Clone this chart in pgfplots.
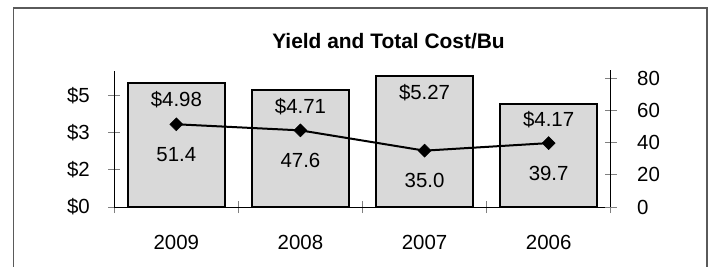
\documentclass[border=0pt]{standalone}
\usepackage{fontspec}
\setmainfont{Liberation Sans}
\usepackage{pgfplots}
\pgfplotsset{compat=1.18}
\definecolor{barfill}{HTML}{D9D9D9}
\definecolor{framegray}{HTML}{5A5A5A}
\newcommand{\lblfont}{\fontsize{20.5}{24}\selectfont}
\begin{document}
\begin{tikzpicture}[x=1bp,y=1bp]
\useasboundingbox (-114.3,-59) rectangle (597.7,207);
\clip (-114.3,-59) rectangle (597.7,207);
\draw[framegray, line width=1.5bp] (-100.8,-70) -- (-100.8,199) -- (592.7,199) -- (592.7,-70);
\node[anchor=base, inner sep=0pt] at (274.2,159) {\fontsize{21}{25}\selectfont\bfseries Yield and Total Cost/Bu};
\begin{axis}[at={(0,0)}, anchor=south west, scale only axis,
  width=496.4bp, height=136.5bp,
  xmin=0.5, xmax=4.5, ymin=0, ymax=5.5,
  axis x line=bottom, axis y line=left,
  axis line style={-, black, line width=1bp},
  xtick={0.5,1.5,2.5,3.5,4.5}, xticklabels={},
  extra x ticks={1,2,3,4}, extra x tick labels={2009,2008,2007,2006},
  extra x tick style={major tick length=0pt, xticklabel style={yshift=-25bp}},
  ytick={0,1.5,3,4.5}, yticklabels={\$0,\$2,\$3,\$5},
  tick align=center, major tick length=12bp,
  tick style={gray, line width=1bp},
  yticklabel style={xshift=-15bp},
  every tick label/.append style={font=\lblfont},
  clip=false]
\addplot[ybar, bar width=96.6bp, fill=barfill, draw=black, line width=2bp,
  point meta=explicit symbolic, nodes near coords,
  every node near coord/.style={anchor=base, yshift=-23.4bp, font=\lblfont, black}]
  coordinates {(1,4.98) [\$4.98] (2,4.71) [\$4.71] (3,5.27) [\$5.27] (4,4.17) [\$4.17]};
\end{axis}
\begin{axis}[at={(0,0)}, anchor=south west, scale only axis,
  width=496.4bp, height=136.5bp,
  xmin=0.5, xmax=4.5, ymin=0, ymax=84.8,
  axis x line=none, axis y line=right,
  axis line style={-, black, line width=1bp},
  ytick={0,20,40,60,80},
  tick align=center, major tick length=12bp,
  tick style={gray, line width=1bp},
  yticklabel style={xshift=17bp},
  /pgf/number format/assume math mode=true,
  every tick label/.append style={font=\lblfont},
  clip=false]
\addplot[black, line width=2bp, mark=square*, mark size=4.6bp,
  mark options={rotate=45, solid, line width=0.5bp, fill=black},
  point meta=explicit symbolic, nodes near coords,
  every node near coord/.style={anchor=base, yshift=-37.3bp, font=\lblfont, black}]
  coordinates {(1,51.4) [51.4] (2,47.6) [47.6] (3,35.0) [35.0] (4,39.7) [39.7]};
\end{axis}
\end{tikzpicture}
\end{document}
